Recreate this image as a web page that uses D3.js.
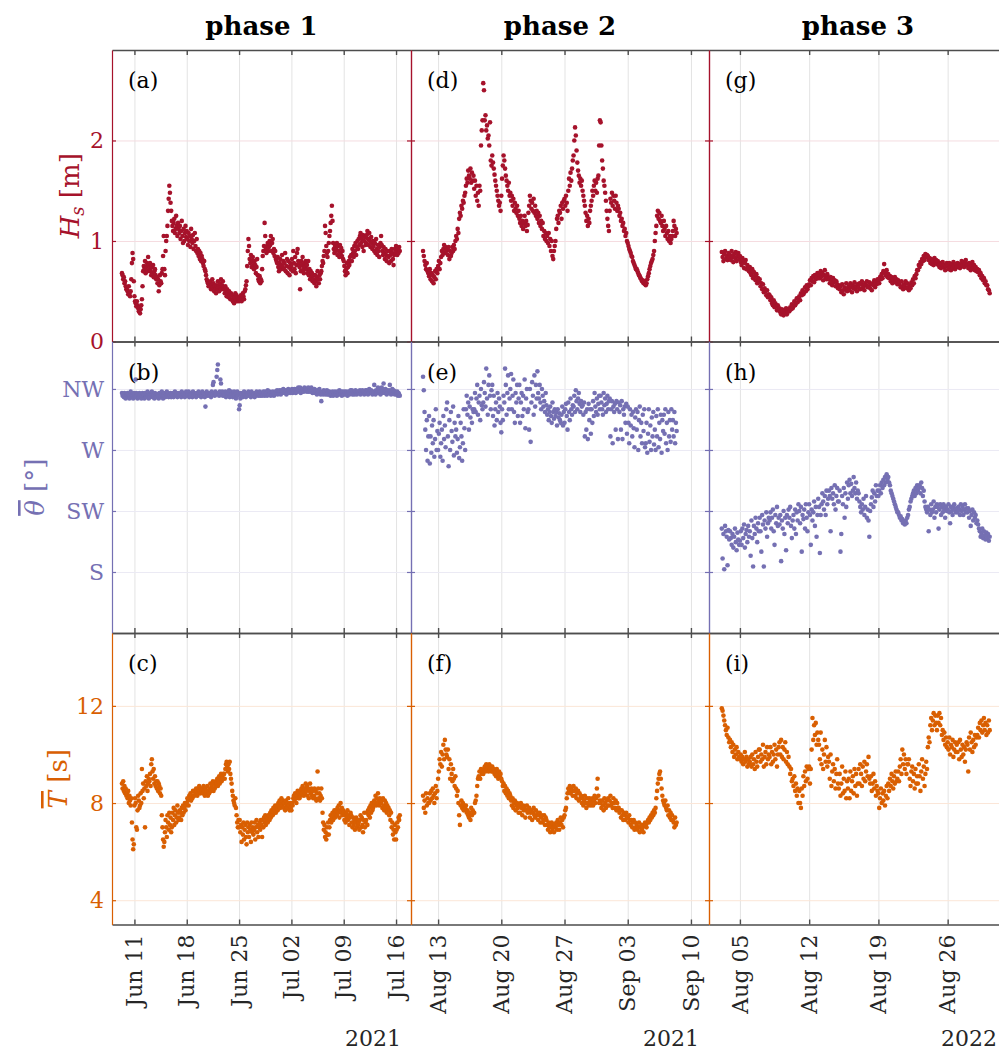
<!DOCTYPE html>
<meta charset="utf-8">
<script src="https://d3js.org/d3.v7.min.js"></script>
<style>
  body { margin: 0; background: #fff; }
  text { font-family: "DejaVu Serif", "Liberation Serif", serif; }
</style>
<body>
<div id="chart"></div>
<script>
// ---- data: one value every 2 hours from each phase's start time ----
var stepHours = 2;

// phase 1 (2021-06-09 08:00 ->)
var start1 = "2021-06-09T08:00";
var hs1 = [0.68,0.66,0.62,0.64,0.58,0.60,0.55,0.52,
0.52,0.50,0.47,0.55,0.48,0.45,0.50,0.62,0.78,0.88,0.82,0.60,
0.45,0.40,0.38,0.35,0.40,0.36,0.33,0.30,0.34,0.28,0.32,0.36,
0.42,0.55,0.70,0.75,0.72,0.80,0.68,0.74,0.78,0.70,0.84,0.76,
0.72,0.78,0.70,0.66,0.74,0.68,0.76,0.64,0.70,0.72,0.66,0.62,
0.64,0.58,0.62,0.50,0.56,0.66,0.60,0.58,0.68,0.72,0.85,1.05,
0.72,0.66,0.90,1.00,1.05,1.15,1.30,1.42,1.55,1.48,1.38,1.30,
1.20,1.15,1.10,1.18,1.22,1.08,1.12,1.25,1.15,1.05,1.18,1.12,
1.08,1.15,1.02,1.10,1.20,1.05,0.98,1.12,1.00,1.08,1.15,1.04,
1.10,1.02,0.96,1.08,1.00,1.05,0.94,1.12,1.02,0.98,1.06,0.92,
1.00,1.08,0.95,0.90,1.02,0.88,0.92,0.85,0.90,0.82,0.88,0.80,
0.85,0.82,0.78,0.75,0.80,0.72,0.70,0.66,0.62,0.60,0.58,0.55,
0.58,0.55,0.60,0.52,0.56,0.62,0.54,0.58,0.50,0.55,0.52,0.48,
0.56,0.52,0.60,0.55,0.50,0.58,0.54,0.62,0.52,0.56,0.60,0.54,
0.52,0.48,0.55,0.50,0.45,0.52,0.48,0.44,0.50,0.46,0.42,0.48,
0.46,0.42,0.40,0.45,0.38,0.44,0.48,0.42,0.46,0.40,0.44,0.42,
0.40,0.44,0.42,0.46,0.40,0.43,0.48,0.45,0.42,0.50,0.52,0.56,
0.60,0.75,0.90,1.02,0.95,0.82,0.78,0.86,0.74,0.80,0.84,0.76,
0.72,0.80,0.76,0.68,0.74,0.82,0.66,0.62,0.60,0.65,0.58,0.62,
0.60,0.72,0.85,0.90,0.95,1.18,1.05,0.92,0.88,0.95,0.98,0.90,
0.94,1.00,0.96,1.05,0.90,0.98,1.02,0.88,0.92,0.85,0.90,0.82,
0.80,0.78,0.84,0.74,0.70,0.78,0.82,0.72,0.76,0.86,0.74,0.80,
0.72,0.78,0.88,0.70,0.75,0.82,0.68,0.80,0.74,0.66,0.78,0.72,
0.75,0.82,0.70,0.90,0.78,0.72,0.84,0.68,0.76,0.88,0.92,0.80,
0.78,0.74,0.52,0.70,0.80,0.76,0.84,0.72,0.68,0.78,0.74,0.80,
0.72,0.76,0.68,0.80,0.66,0.72,0.62,0.70,0.64,0.68,0.60,0.66,
0.62,0.58,0.66,0.60,0.55,0.64,0.70,0.62,0.58,0.66,0.62,0.68,
0.70,0.75,0.80,0.78,0.85,0.90,1.15,1.08,0.95,0.88,0.84,0.90,
0.98,1.05,1.10,1.18,1.25,1.35,1.20,0.98,0.92,0.88,0.95,0.90,
0.92,0.98,0.86,0.95,0.90,0.84,0.96,0.88,0.93,0.85,0.90,0.82,
0.80,0.75,0.70,0.66,0.72,0.78,0.68,0.74,0.80,0.76,0.84,0.80,
0.86,0.80,0.92,0.88,0.84,0.95,0.90,0.98,0.86,0.94,1.00,0.92,
1.02,0.96,1.05,1.08,0.98,1.02,0.94,1.06,0.90,1.00,1.04,0.96,
0.98,1.06,1.10,1.02,0.96,1.08,1.00,0.94,1.04,0.98,0.92,1.00,
0.95,0.90,0.98,0.88,1.02,0.92,0.86,0.96,0.90,0.84,0.94,0.98,
1.05,0.96,0.90,0.86,0.94,0.88,0.82,0.92,0.86,0.80,0.90,0.85,
0.84,0.78,0.90,0.86,0.80,0.92,0.88,0.82,0.76,0.86,0.92,0.88,
0.95,0.90,0.86,0.92,0.88,0.94,0.90];
var th1 = [312,310,311,309,312,310,308,311,
310,312,309,311,308,310,313,309,311,310,308,312,
311,309,322,312,310,308,311,309,312,310,311,308,
310,312,309,311,308,312,310,309,311,313,310,308,
311,309,312,310,313,309,311,310,308,312,310,311,
309,311,310,308,312,310,309,311,313,310,308,311,
310,312,309,311,313,310,312,309,311,310,312,309,
311,310,312,309,311,313,310,312,311,309,312,310,
310,312,311,309,313,310,311,312,310,309,311,313,
311,310,312,313,309,311,310,312,311,309,313,310,
312,310,311,309,312,311,310,313,311,310,312,309,
311,313,310,312,311,309,302,311,313,310,312,311,
310,312,311,309,313,311,318,320,312,310,313,311,
324,329,333,312,310,313,322,319,311,313,310,312,
311,310,313,309,312,311,310,312,314,309,311,313,
310,312,309,311,313,310,312,308,311,313,310,312,
300,303,308,312,310,311,309,312,313,310,311,309,
312,310,311,313,310,312,311,309,313,312,310,311,
311,309,312,310,313,311,312,310,311,313,310,312,
312,310,311,313,312,310,313,311,312,310,314,311,
311,313,312,310,312,311,313,312,310,311,313,312,
312,314,311,313,312,314,313,311,314,312,313,315,
313,312,314,313,311,314,312,315,313,314,312,313,
313,315,312,314,313,315,314,312,315,313,314,316,
314,313,316,312,314,313,315,314,313,316,314,315,
315,313,314,316,313,314,315,313,316,314,312,314,
313,315,312,314,313,311,314,312,313,315,312,311,
306,312,313,311,314,312,313,311,312,314,311,313,
311,313,312,310,312,311,313,310,312,311,313,312,
312,310,313,311,312,314,311,313,312,310,313,311,
311,313,312,311,313,312,310,312,313,311,312,314,
312,314,311,313,312,311,313,314,312,311,313,312,
313,312,314,311,313,312,314,312,313,311,312,314,
312,314,313,311,313,315,312,313,314,312,311,313,
312,318,313,311,314,312,313,316,312,314,313,311,
313,316,312,314,319,313,312,315,313,311,314,312,
312,314,318,313,311,313,315,312,314,313,311,313,
312,311,313,310,312,311,310];
var tp1 = [8.8,8.6,8.9,8.5,8.7,8.4,8.6,8.3,
8.4,8.2,8.5,8.0,8.3,8.1,7.9,8.2,7.2,6.5,6.1,6.3,
7.9,8.2,8.0,7.0,6.9,7.7,8.3,8.1,7.8,7.9,8.4,8.0,
9.4,8.5,8.8,8.2,8.6,7.0,8.9,8.7,9.1,8.5,8.8,9.0,
8.9,9.2,8.7,9.6,9.8,9.3,9.0,9.4,8.8,9.1,8.7,8.9,
8.6,8.9,8.5,8.8,8.7,8.4,8.6,8.3,7.5,7.0,6.5,6.2,
6.4,6.8,7.3,7.0,6.6,7.5,7.2,6.9,7.6,7.1,7.4,6.8,
7.0,7.6,7.3,7.8,7.1,7.5,7.7,7.2,7.4,7.9,7.6,7.3,
7.4,7.7,7.6,7.3,7.8,7.5,7.9,7.6,7.8,8.0,7.7,7.9,
8.0,8.2,8.1,7.9,8.3,8.2,8.4,8.1,8.3,8.2,8.5,8.3,
8.3,8.5,8.4,8.6,8.5,8.3,8.6,8.4,8.7,8.5,8.4,8.6,
8.5,8.6,8.4,8.7,8.5,8.3,8.6,8.4,8.5,8.7,8.3,8.5,
8.4,8.6,8.8,8.5,8.7,8.6,8.9,8.5,8.8,8.6,8.7,8.9,
8.8,9.0,8.7,8.9,9.1,8.8,9.0,9.2,8.9,9.1,9.0,9.2,
9.2,9.0,9.4,9.6,9.7,9.5,9.3,9.6,9.4,9.7,9.2,9.0,
8.8,8.5,8.3,8.1,8.0,7.9,8.2,7.8,7.5,7.2,7.0,7.3,
7.0,7.3,6.8,7.1,6.4,7.0,6.7,7.2,6.5,6.9,7.1,6.6,
6.3,7.2,6.8,7.0,6.6,7.1,6.9,6.4,7.2,6.8,7.0,6.7,
6.9,7.2,6.5,7.0,7.3,6.8,7.1,6.6,7.0,7.2,6.9,7.3,
7.1,6.6,7.3,7.0,7.4,7.2,7.5,7.1,7.3,7.4,7.2,7.5,
7.5,7.3,7.6,7.4,7.7,7.6,7.5,7.8,7.6,7.7,7.9,7.6,
7.8,7.9,7.7,8.0,7.9,8.1,7.8,8.0,8.2,7.9,8.1,8.0,
7.8,8.0,7.7,8.1,7.9,7.8,8.0,8.2,7.9,7.7,8.0,7.8,
7.7,8.0,7.9,8.2,8.3,8.1,8.4,8.2,8.0,8.3,8.5,8.2,
8.4,8.2,8.5,8.3,8.6,8.4,8.7,8.5,8.3,8.6,8.4,8.8,
8.5,8.7,8.3,8.6,8.2,8.5,8.8,8.4,8.6,8.3,8.5,8.2,
8.3,8.6,8.2,8.5,8.1,8.4,9.3,8.6,8.2,8.4,8.1,8.3,
8.6,8.2,7.6,7.2,6.9,7.1,6.6,6.8,6.5,7.0,6.7,7.2,
6.7,7.0,7.3,7.5,7.2,7.4,7.6,7.3,7.5,7.7,7.4,7.6,
7.7,7.5,7.8,7.6,7.9,7.4,7.7,8.0,7.6,7.8,7.5,7.7,
7.6,7.3,7.5,7.2,7.6,7.4,7.7,7.3,7.5,7.1,7.4,7.6,
7.5,7.2,7.0,7.4,7.1,7.3,6.9,7.2,7.4,7.0,7.3,7.1,
7.2,6.9,7.3,7.5,7.0,7.4,7.1,6.8,7.3,7.6,7.0,7.2,
7.3,7.6,7.1,7.7,7.5,7.8,7.4,7.9,7.6,8.0,7.7,7.8,
7.9,8.1,8.0,8.3,7.9,8.2,8.0,8.4,8.1,7.9,8.2,8.0,
8.0,8.1,7.8,8.2,7.9,7.7,8.1,7.8,8.0,7.6,7.9,7.7,
7.8,7.5,7.7,7.3,7.6,7.0,7.2,6.7,6.9,6.5,7.1,6.8,
6.5,6.9,7.2,7.0,7.4,7.3,7.5];

// phase 2 (2021-08-11 08:00 ->)
var start2 = "2021-08-11T08:00";
var hs2 = [0.90,0.85,0.80,0.76,0.72,0.78,0.70,0.68,
0.65,0.72,0.62,0.68,0.60,0.66,0.58,0.64,0.70,0.62,0.72,0.68,
0.75,0.80,0.72,0.78,0.84,0.90,0.86,0.92,0.96,0.88,0.94,0.90,
0.92,0.86,0.94,0.82,0.90,0.85,0.88,0.94,0.90,0.96,0.92,1.00,
1.05,1.02,1.12,1.08,1.22,1.28,1.25,1.35,1.32,1.40,1.38,1.45,
1.48,1.55,1.62,1.58,1.70,1.65,1.62,1.72,1.58,1.68,1.60,1.65,
1.52,1.60,1.45,1.55,1.40,1.48,1.35,1.55,1.50,1.95,2.10,2.20,
2.57,2.50,2.20,2.25,2.10,2.15,2.02,2.05,1.95,2.18,1.80,1.75,
1.85,1.78,1.72,1.66,1.60,1.55,1.50,1.45,1.40,1.35,1.38,1.30,
1.45,1.62,1.75,1.85,1.80,1.72,1.65,1.60,1.55,1.50,1.58,1.45,
1.48,1.40,1.45,1.35,1.42,1.30,1.38,1.32,1.28,1.35,1.25,1.30,
1.22,1.18,1.25,1.15,1.20,1.12,1.18,1.25,1.15,1.20,1.10,1.16,
1.28,1.35,1.45,1.40,1.32,1.38,1.30,1.42,1.28,1.35,1.25,1.30,
1.22,1.28,1.18,1.25,1.15,1.20,1.12,1.18,1.05,1.10,1.02,1.08,
1.00,1.05,0.98,1.08,0.95,1.02,0.90,1.00,0.85,0.82,0.90,0.95,
1.00,1.12,1.22,1.25,1.18,1.30,1.28,1.35,1.22,1.38,1.32,1.40,
1.42,1.35,1.45,1.38,1.30,1.50,1.62,1.55,1.68,1.60,1.72,1.80,
1.85,2.00,2.13,2.05,1.90,1.78,1.70,1.65,1.58,1.62,1.55,1.60,
1.50,1.45,1.40,1.35,1.28,1.20,1.25,1.15,1.22,1.18,1.30,1.35,
1.40,1.50,1.45,1.55,1.60,1.50,1.58,1.48,1.62,1.65,1.95,2.20,
2.18,1.95,1.80,1.72,1.60,1.55,1.48,1.40,1.30,1.22,1.15,1.10,
1.30,1.42,1.38,1.48,1.35,1.45,1.40,1.32,1.45,1.38,1.30,1.35,
1.32,1.25,1.28,1.20,1.22,1.15,1.18,1.10,1.12,1.05,1.08,1.00,
0.98,0.95,0.92,0.90,0.88,0.85,0.84,0.80,0.78,0.76,0.74,0.72,
0.72,0.70,0.68,0.66,0.65,0.63,0.62,0.60,0.61,0.58,0.60,0.57,
0.56,0.58,0.62,0.65,0.68,0.72,0.75,0.78,0.80,0.82,0.86,0.90,
1.00,1.08,1.15,1.25,1.30,1.22,1.28,1.20,1.18,1.25,1.15,1.10,
1.20,1.12,1.05,1.15,1.08,1.02,1.10,1.00,1.05,0.98,1.02,1.05,
1.10,1.20,1.15,1.05,1.12,1.08];
var th2 = [324,314,298,285,270,292,262,280,
295,260,280,268,288,275,292,265,278,300,270,284,
270,282,290,265,275,285,262,295,278,288,272,300,
305,280,258,292,270,298,284,276,302,266,290,280,
285,268,278,295,264,272,290,280,262,275,300,286,
270,300,310,296,305,285,302,294,308,290,300,298,
300,312,298,308,318,296,305,310,292,315,303,300,
305,320,312,302,330,308,296,318,325,310,300,314,
318,295,310,288,300,305,292,312,298,308,302,290,
283,300,292,310,305,330,318,296,312,325,300,308,
315,326,300,310,322,298,290,312,305,318,295,308,
318,290,305,312,295,310,300,322,286,308,315,298,
300,285,315,276,305,320,310,296,325,302,318,308,
328,312,308,318,305,300,315,310,302,306,298,312,
303,296,300,292,298,302,295,290,305,298,293,300,
295,298,288,300,294,297,292,290,296,302,288,298,
290,300,304,295,285,305,298,292,308,300,296,303,
302,310,298,314,306,300,308,312,304,298,306,302,
303,296,305,280,298,285,300,278,304,292,300,282,
300,290,306,295,312,302,298,308,296,304,310,300,
310,305,300,296,312,303,308,298,304,310,300,306,
308,280,300,306,275,302,298,304,285,306,300,278,
305,298,303,285,306,278,300,296,302,290,304,282,
302,290,275,300,288,296,280,298,286,272,294,300,
285,298,270,292,302,280,290,275,296,284,300,272,
275,290,268,282,300,276,288,270,294,280,298,274,
285,270,295,280,300,272,290,278,296,268,292,284,
296,282,300,275,290,270,298,280,292,276,300,285,
292,280,298,275,290,284];
var tp2 = [8.3,7.8,8.1,7.6,8.4,7.9,8.2,8.0,
8.0,8.4,8.1,8.5,8.2,8.6,8.3,8.0,8.4,8.7,8.2,8.5,
9.0,9.3,9.8,9.6,10.1,9.5,10.0,10.4,9.8,10.6,10.2,10.0,
9.9,10.2,9.4,9.8,9.0,9.6,9.2,8.9,9.4,9.0,8.7,9.1,
8.6,8.3,8.5,8.0,7.5,7.1,7.9,8.1,7.8,8.0,7.7,7.9,
7.8,7.9,7.6,7.7,7.5,7.4,7.6,7.3,7.8,7.5,7.7,7.6,
7.6,8.0,8.1,8.3,8.7,9.0,9.1,9.3,9.0,9.4,9.2,9.3,
9.2,9.4,9.5,9.3,9.6,9.4,9.5,9.3,9.6,9.4,9.5,9.3,
9.5,9.3,9.4,9.2,9.3,9.1,9.4,9.2,9.0,9.3,9.1,9.2,
9.0,8.9,8.7,8.8,8.5,8.7,8.4,8.6,8.3,8.5,8.2,8.4,
8.3,8.1,7.9,8.2,7.8,8.0,8.1,7.7,7.9,8.0,7.8,7.6,
7.9,7.6,8.0,7.8,7.5,7.9,7.7,7.8,7.4,7.7,7.9,7.6,
7.7,7.8,7.4,7.6,7.7,7.3,7.6,7.8,7.5,7.4,7.7,7.5,
7.6,7.3,7.5,7.6,7.2,7.4,7.5,7.2,7.3,7.5,7.1,7.4,
7.3,7.1,6.9,7.2,7.0,6.8,7.1,7.2,6.9,7.0,6.8,7.1,
7.0,7.2,6.9,7.3,7.1,6.9,7.2,7.4,7.1,7.3,7.0,7.4,
7.5,7.7,7.8,8.2,8.4,8.6,8.5,8.7,8.4,8.6,8.5,8.3,
8.7,8.5,8.3,8.6,8.2,8.4,8.5,8.1,8.4,8.2,8.3,8.0,
8.2,7.9,8.1,8.3,8.0,7.8,8.2,8.0,7.9,8.2,8.1,7.9,
8.0,8.2,7.9,8.1,8.3,8.0,8.2,8.6,9.0,8.3,8.0,8.1,
8.0,7.8,8.1,7.9,7.7,8.2,8.0,7.8,8.1,7.9,8.2,7.9,
8.1,8.3,7.9,8.0,7.8,8.2,8.0,7.8,8.1,7.7,8.0,7.8,
7.8,7.6,7.7,7.4,7.7,7.5,7.3,7.6,7.5,7.3,7.6,7.4,
7.4,7.2,7.5,7.3,7.1,7.3,7.0,7.2,7.3,6.9,7.2,7.0,
7.1,6.9,7.0,7.2,6.8,7.0,7.1,6.9,7.0,6.8,7.1,7.2,
7.1,7.0,7.2,7.3,7.2,7.4,7.3,7.5,7.4,7.6,7.5,7.7,
7.6,7.8,8.2,8.5,8.8,9.0,9.2,9.3,9.0,8.6,8.3,8.1,
8.0,7.9,8.1,7.8,7.7,7.9,7.5,7.7,7.4,7.6,7.3,7.5,
7.3,7.2,7.0,7.4,7.1,7.2];

// phase 3 (2022-08-03 04:00 ->)
var start3 = "2022-08-03T04:00";
var hs3 = [0.89,0.84,0.80,0.87,0.90,0.82,0.85,0.81,0.88,0.83,
0.86,0.81,0.90,0.84,0.79,0.87,0.83,0.89,0.80,0.85,0.88,0.82,
0.85,0.79,0.76,0.83,0.80,0.73,0.78,0.81,0.72,0.76,0.74,0.70,
0.74,0.68,0.66,0.72,0.63,0.69,0.65,0.61,0.67,0.58,0.63,0.60,
0.62,0.55,0.58,0.52,0.57,0.49,0.53,0.50,0.46,0.51,0.44,0.47,
0.46,0.41,0.44,0.38,0.36,0.41,0.34,0.38,0.35,0.31,0.36,0.32,
0.33,0.29,0.27,0.32,0.30,0.26,0.31,0.28,0.33,0.27,0.30,0.32,
0.30,0.34,0.32,0.37,0.33,0.35,0.40,0.36,0.38,0.43,0.39,0.42,
0.45,0.41,0.48,0.46,0.51,0.47,0.49,0.54,0.50,0.56,0.52,0.55,
0.57,0.61,0.56,0.63,0.60,0.65,0.59,0.66,0.62,0.64,0.68,0.63,
0.67,0.63,0.70,0.65,0.68,0.61,0.66,0.71,0.64,0.62,0.67,0.63,
0.62,0.58,0.64,0.60,0.56,0.63,0.59,0.61,0.55,0.60,0.57,0.53,
0.56,0.52,0.55,0.49,0.57,0.51,0.47,0.54,0.52,0.58,0.50,0.53,
0.55,0.51,0.58,0.54,0.49,0.56,0.53,0.59,0.52,0.55,0.50,0.57,
0.54,0.58,0.52,0.57,0.60,0.53,0.55,0.51,0.58,0.56,0.60,0.54,
0.55,0.59,0.53,0.57,0.51,0.58,0.56,0.61,0.54,0.60,0.57,0.62,
0.61,0.58,0.64,0.62,0.67,0.63,0.70,0.77,0.69,0.66,0.71,0.64,
0.67,0.63,0.65,0.60,0.64,0.58,0.62,0.59,0.64,0.60,0.62,0.57,
0.61,0.57,0.59,0.54,0.60,0.55,0.52,0.57,0.55,0.60,0.53,0.58,
0.54,0.51,0.56,0.53,0.59,0.56,0.62,0.58,0.65,0.63,0.67,0.71,
0.71,0.76,0.74,0.79,0.77,0.82,0.80,0.85,0.81,0.87,0.84,0.86,
0.85,0.81,0.83,0.78,0.82,0.77,0.80,0.76,0.83,0.79,0.81,0.77,
0.80,0.76,0.74,0.78,0.73,0.77,0.79,0.74,0.76,0.71,0.75,0.78,
0.76,0.72,0.78,0.74,0.71,0.77,0.73,0.79,0.75,0.72,0.77,0.74,
0.78,0.74,0.77,0.73,0.76,0.80,0.75,0.79,0.74,0.77,0.81,0.76,
0.77,0.73,0.78,0.74,0.71,0.76,0.79,0.73,0.76,0.71,0.74,0.70,
0.72,0.69,0.71,0.66,0.68,0.63,0.65,0.61,0.63,0.58,0.60,0.56,
0.56,0.52,0.51,0.48];
var th3 = [212,190,208,182,214,210,206,185,211,204,
210,205,200,208,198,206,212,202,196,209,204,200,
203,210,200,212,205,215,198,208,211,202,214,206,
210,192,218,205,184,214,208,220,212,202,216,210,
220,210,195,222,215,184,218,212,224,206,216,220,
218,224,212,220,226,210,200,222,216,228,214,220,
215,222,188,218,212,225,208,220,196,222,216,226,
220,228,214,205,218,222,212,226,208,224,218,230,
225,216,228,195,222,219,226,212,230,220,210,224,
230,222,200,226,218,224,232,214,228,206,222,234,
228,194,222,230,238,232,226,236,222,240,230,234,
240,236,210,242,234,238,230,244,226,236,242,232,
232,240,195,208,236,230,242,220,238,228,246,234,
244,248,238,245,236,240,250,242,238,246,234,240,
238,232,228,224,230,226,234,222,228,236,220,226,
218,206,225,230,235,240,228,238,232,244,236,240,
236,240,244,238,246,242,248,244,250,246,252,248,
250,246,244,240,238,236,234,232,230,228,226,224,
224,222,220,221,218,219,216,217,215,218,216,220,
222,226,228,232,234,236,238,240,236,242,238,244,
240,242,244,238,246,242,236,240,232,228,226,224,
228,210,226,222,230,224,226,232,220,228,224,230,
228,212,226,230,222,228,224,230,226,220,228,225,
226,230,224,216,228,225,222,228,230,226,224,227,
224,228,226,222,230,225,228,222,226,230,224,227,
224,227,220,225,214,222,226,218,224,220,222,216,
218,215,212,210,206,208,212,205,210,207,204,209,
205,208,203,206];
var tp3 = [11.9,11.8,11.6,11.4,11.2,11.0,10.8,11.1,10.7,10.5,
10.6,10.3,10.5,10.1,10.4,9.9,10.2,10.0,10.3,9.8,10.1,9.9,
9.8,10.0,9.7,9.9,9.6,9.8,10.1,9.7,9.9,9.5,9.8,9.6,
9.7,9.9,9.5,10.0,9.6,9.8,9.4,10.1,9.7,9.5,9.9,10.2,
10.2,9.7,10.0,9.8,10.4,9.5,9.9,10.1,9.6,10.3,9.8,10.0,
9.9,10.3,9.6,10.1,9.7,10.0,10.4,9.8,10.2,9.5,10.0,10.3,
10.5,10.0,10.6,9.9,10.3,9.8,10.2,10.5,9.7,10.1,9.6,9.9,
9.5,9.2,9.4,8.9,9.0,8.7,9.1,8.5,8.8,8.3,8.6,8.0,
8.5,8.0,7.8,8.6,8.3,9.1,8.7,9.3,8.9,9.5,9.0,9.4,
9.5,8.8,9.4,10.2,11.5,10.6,11.2,10.8,11.3,10.4,10.9,10.6,
10.4,9.8,10.9,9.6,10.2,9.4,10.0,10.6,9.7,10.3,9.5,9.9,
9.7,9.0,10.0,8.7,9.3,9.6,8.9,9.4,8.6,9.2,9.8,8.8,
8.6,9.2,8.3,8.8,9.5,8.4,9.0,8.5,9.3,8.2,8.9,8.6,
9.0,8.2,9.3,8.5,8.9,9.1,8.4,9.4,8.7,9.2,8.3,8.8,
9.4,8.8,9.6,9.2,8.7,9.5,9.0,9.7,8.9,9.3,9.6,9.1,
9.9,9.0,8.8,9.1,8.5,8.8,9.2,8.6,8.9,8.3,8.7,8.5,
8.4,7.8,8.2,8.6,8.0,8.4,8.1,8.5,7.9,8.3,8.7,8.2,
8.8,8.5,9.0,8.7,9.2,8.9,8.6,9.1,8.8,9.3,8.9,9.0,
9.3,8.9,9.5,9.8,9.2,10.2,9.6,10.0,9.4,9.8,9.2,9.6,
9.6,9.8,9.0,8.7,9.3,9.5,8.9,9.2,8.6,9.4,8.8,9.1,
8.8,9.6,9.1,8.5,9.3,9.8,9.0,9.5,8.7,9.2,9.7,9.4,
10.3,10.7,10.5,11.2,11.5,11.0,11.4,11.7,11.2,11.6,11.3,11.0,
11.6,11.3,11.7,11.2,11.5,10.8,11.0,10.6,10.9,10.4,10.7,10.3,
10.5,10.2,10.7,10.0,10.4,10.3,10.6,9.9,10.2,10.5,10.1,10.4,
10.1,10.5,9.8,10.6,10.2,9.9,10.4,10.0,10.3,9.7,10.2,10.5,
10.4,9.3,10.7,10.2,10.9,10.5,10.1,10.6,10.3,10.8,10.4,10.7,
10.8,11.1,10.7,11.3,11.0,11.4,10.9,11.2,11.5,11.0,11.3,10.8,
11.2,10.9,11.4,11.0];

// axis limits and ticks
var xlim1 = ["2021-06-08T00:00", "2021-07-18T00:00"];
var xlim2 = ["2021-08-10T00:00", "2021-09-12T00:00"];
var xlim3 = ["2022-08-01T21:00", "2022-09-01T00:00"];
var xticks1 = ["2021-06-11", "2021-06-18", "2021-06-25", "2021-07-02", "2021-07-09", "2021-07-16"];
var xticks2 = ["2021-08-13", "2021-08-20", "2021-08-27", "2021-09-03", "2021-09-10"];
var xticks3 = ["2022-08-05", "2022-08-12", "2022-08-19", "2022-08-26"];
var xlabels1 = ["Jun 11", "Jun 18", "Jun 25", "Jul 02", "Jul 09", "Jul 16"];
var xlabels2 = ["Aug 13", "Aug 20", "Aug 27", "Sep 03", "Sep 10"];
var xlabels3 = ["Aug 05", "Aug 12", "Aug 19", "Aug 26"];
var years = ["2021", "2021", "2022"];
var phases = ["phase 1", "phase 2", "phase 3"];

var hsTicks = [0, 1, 2], hsLabels = ["0", "1", "2"];
var thTicks = [315, 270, 225, 180], thLabels = ["NW", "W", "SW", "S"];
var tpTicks = [4, 8, 12], tpLabels = ["4", "8", "12"];

// ---- layout ----
var red = "#a6122b", purple = "#7570b3", orange = "#d95f02";
var colX = [112, 411, 709], colW = [299, 298, 298];
var rowY = [50, 341.5, 633], rowH = 291.5;

var parseT = d3.timeParse("%Y-%m-%dT%H:%M");
var parseD = d3.timeParse("%Y-%m-%d");

var cols = [
  {start: parseT(start1), xlim: xlim1.map(parseT), ticks: xticks1.map(parseD), labels: xlabels1},
  {start: parseT(start2), xlim: xlim2.map(parseT), ticks: xticks2.map(parseD), labels: xlabels2},
  {start: parseT(start3), xlim: xlim3.map(parseT), ticks: xticks3.map(parseD), labels: xlabels3}
];
var rows = [
  {color: red, grid: "#f5dce0", domain: [0, 2.9], ticks: hsTicks, labels: hsLabels, series: [hs1, hs2, hs3]},
  {color: purple, grid: "#ebeaf4", domain: [135, 350], ticks: thTicks, labels: thLabels, series: [th1, th2, th3]},
  {color: orange, grid: "#fbe6d7", domain: [3, 15], ticks: tpTicks, labels: tpLabels, series: [tp1, tp2, tp3]}
];

var svg = d3.select("#chart").append("svg")
  .attr("width", 999).attr("height", 1053);

rows.forEach(function(r, ri) {
  cols.forEach(function(c, ci) {
    var w = colW[ci];
    var x = d3.scaleTime().domain(c.xlim).range([0, w]);
    var y = d3.scaleLinear().domain(r.domain).range([rowH, 0]);
    var g = svg.append("g")
      .attr("transform", "translate(" + colX[ci] + "," + rowY[ri] + ")");

    // grid lines
    g.append("g")
      .call(d3.axisBottom(x).tickValues(c.ticks).tickSize(rowH).tickFormat(""))
      .call(function(s) { s.select(".domain").remove(); })
      .selectAll("line").attr("stroke", "#e3e3e3");
    g.append("g")
      .call(d3.axisRight(y).tickValues(r.ticks).tickSize(w).tickFormat(""))
      .call(function(s) { s.select(".domain").remove(); })
      .selectAll("line").attr("stroke", r.grid);

    // points
    g.append("g").selectAll("circle")
      .data(r.series[ci])
      .join("circle")
        .attr("cx", function(d, i) { return x(d3.timeHour.offset(c.start, i * stepHours)); })
        .attr("cy", function(d) { return y(d); })
        .attr("r", 2.3)
        .attr("fill", r.color);

    // frame with inward ticks
    var top = g.append("g")
      .call(d3.axisTop(x).tickValues(c.ticks).tickSize(-5).tickSizeOuter(0).tickFormat(""));
    var bot = g.append("g").attr("transform", "translate(0," + rowH + ")")
      .call(d3.axisBottom(x).tickValues(c.ticks).tickSize(-5).tickSizeOuter(0).tickFormat(""));
    [top, bot].forEach(function(a) {
      a.selectAll("path, line").attr("stroke", "#4d4d4d").attr("stroke-width", 1.4);
    });
    var lft = g.append("g")
      .call(d3.axisLeft(y).tickValues(r.ticks).tickSize(-4).tickSizeOuter(0).tickFormat(""));
    var rgt = g.append("g").attr("transform", "translate(" + w + ",0)")
      .call(d3.axisRight(y).tickValues(r.ticks).tickSize(-4).tickSizeOuter(0).tickFormat(""));
    [lft, rgt].forEach(function(a) {
      a.selectAll("path, line").attr("stroke", r.color).attr("stroke-width", 1.2);
    });

    // panel letter
    g.append("text")
      .attr("x", 16).attr("y", 38)
      .style("font-size", "22px")
      .text("(" + "abcdefghi"[ci * 3 + ri] + ")");

    // y tick labels on the first column
    if (ci === 0) {
      g.selectAll(".ylab").data(r.ticks).join("text")
        .attr("x", -8).attr("y", function(d) { return y(d); })
        .attr("dy", "0.35em")
        .attr("text-anchor", "end")
        .attr("fill", r.color)
        .style("font-size", "22px")
        .text(function(d, i) { return r.labels[i]; });
    }

    // x tick labels under the last row
    if (ri === 2) {
      g.selectAll(".xlab").data(c.ticks).join("text")
        .attr("transform", function(d) { return "translate(" + x(d) + "," + (rowH + 10) + ") rotate(-90)"; })
        .attr("dy", "0.35em")
        .attr("text-anchor", "end")
        .attr("fill", "#262626")
        .style("font-size", "22px")
        .text(function(d, i) { return c.labels[i]; });
      g.append("text")
        .attr("x", w - 10).attr("y", rowH + 121)
        .attr("text-anchor", "end")
        .attr("fill", "#262626")
        .style("font-size", "22px")
        .text(years[ci]);
    }

    // phase titles
    if (ri === 0) {
      svg.append("text")
        .attr("x", colX[ci] + w / 2).attr("y", 35)
        .attr("text-anchor", "middle")
        .style("font-size", "26px").style("font-weight", "bold")
        .text(phases[ci]);
    }
  });
});

// y axis titles
var t1 = svg.append("text")
  .attr("transform", "translate(79," + (rowY[0] + rowH / 2) + ") rotate(-90)")
  .attr("text-anchor", "middle").attr("fill", red).style("font-size", "26px");
t1.append("tspan").style("font-style", "italic").text("H");
t1.append("tspan").style("font-style", "italic").style("font-size", "18px").attr("dy", 5).text("s");
t1.append("tspan").attr("dy", -5).text(" [m]");

var t2 = svg.append("text")
  .attr("transform", "translate(44," + (rowY[1] + rowH / 2) + ") rotate(-90)")
  .attr("text-anchor", "middle").attr("fill", purple).style("font-size", "26px");
t2.append("tspan").style("font-style", "italic").style("text-decoration", "overline").text("θ");
t2.append("tspan").text(" [°]");

var t3 = svg.append("text")
  .attr("transform", "translate(67," + (rowY[2] + rowH / 2) + ") rotate(-90)")
  .attr("text-anchor", "middle").attr("fill", orange).style("font-size", "26px");
t3.append("tspan").style("font-style", "italic").style("text-decoration", "overline").text("T");
t3.append("tspan").text(" [s]");
</script>
</body>
